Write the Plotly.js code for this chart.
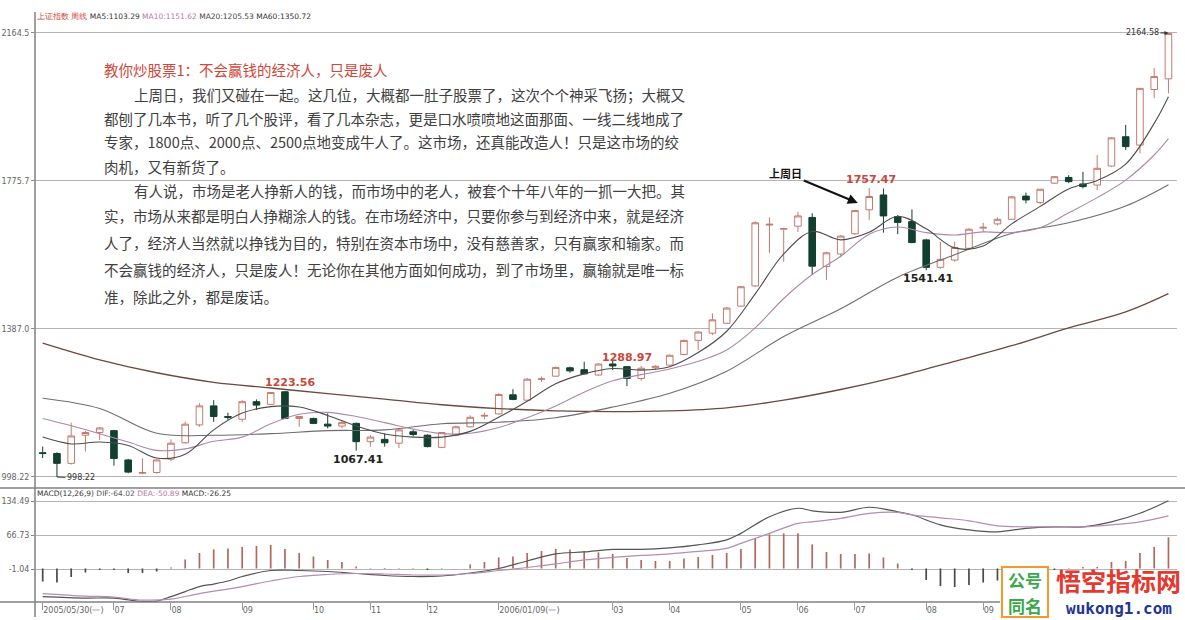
<!DOCTYPE html>
<html><head><meta charset="utf-8">
<script src="https://cdn.plot.ly/plotly-3.0.1.min.js"></script>
<style>html,body{margin:0;padding:0;background:#fff}#chart{width:1185px;height:620px}</style>
</head><body><div id="chart"></div>
<script>
// ---------- DATA (weekly candles, index 0..79) ----------
const openP  = [1062,1060,1034,1108,1115,1120,1043,1008,1010,1045,1088,1135,1185,1157,1150,1196,1189,1222,1152,1152,
                1137,1132,1139,1091,1097,1087,1117,1108,1076,1108,1130,1158,1164,1214,1200,1255,1263,1285,1280,1266,
                1295,1288,1257,1285,1292,1320,1357,1376,1402,1447,1500,1660,1649,1657,1680,1551,1584,1637,1700,1739,
                1682,1669,1621,1549,1568,1599,1652,1663,1675,1736,1719,1770,1785,1768,1765,1815,1892,1870,2016,2044];
const highP  = [1078,1063,1141,1119,1130,1122,1046,1047,1044,1097,1144,1192,1200,1167,1200,1202,1221,1223.56,1158,1154,
                1165,1146,1141,1108,1113,1124,1122,1110,1116,1133,1160,1167,1218,1229,1258,1262,1288,1288,1301,1297,
                1307,1288.97,1290,1292,1320,1359,1381,1428,1445,1500,1670,1680,1652,1695,1691,1590,1634,1700,1757.47,1756,
                1686,1701,1624,1616,1616,1652,1666,1680,1736,1745,1755,1789,1791,1800,1844,1891,1923,2020,2072,2164.58];
const lowP   = [1048,998.22,1031,1065,1095,1028,1008,1006,1007,1040,1086,1130,1143,1148,1143,1174,1187,1150,1130,1137,
                1126,1126,1067.41,1078,1078,1074,1105,1076,1074,1105,1128,1150,1162,1200,1198,1248,1262,1272,1268,1264,
                1279,1237,1251,1280,1290,1318,1331,1371,1400,1445,1497,1587,1564,1642,1529,1516,1575,1634,1673,1640,
                1636,1612,1541.41,1545,1564,1596,1642,1659,1673,1717,1715,1768,1770,1756,1752,1813,1857,1848,1993,2006];
const closeP = [1060,1034,1106,1115,1127,1047,1011,1010,1043,1087,1137,1185,1157,1155,1196,1187,1220,1152,1157,1139,
                1132,1141,1091,1103,1088,1122,1110,1078,1115,1130,1155,1160,1215,1202,1255,1256,1286,1277,1269,1295,
                1290,1257,1284,1289,1318,1357,1379,1411,1442,1498,1666,1662,1651,1684,1552,1587,1631,1698,1735,1684,
                1667,1614,1549,1570,1601,1649,1654,1675,1734,1726,1754,1787,1774,1761,1809,1889,1866,2019,2050,2163];

// moving averages
const ma5Idx = [0,2,4,6,8,10,12,14,16,18,20,22,24,26,28,30,32,34,36,38,40,42,44,46,48,50,52,54,56,58,60,62,64,66,68,70,72,74,76,78,79];
const ma5    = [1103,1085,1090,1081,1048,1058,1122,1166,1183,1182,1160,1132,1111,1103,1103,1118,1155,1197,1243,1269,1283,1279,1288,1325,1381,1479,1584,1643,1621,1641,1683,1650,1600,1605,1663,1709,1755,1777,1820,1927,1997];
const ma10Idx = [0,2,4,6,8,10,12,14,16,18,20,22,24,26,28,30,32,34,36,38,40,42,44,46,48,50,52,54,56,58,60,62,64,66,68,70,72,74,76,78,79];
const ma10   = [1152,1133,1112,1090,1068,1072,1092,1103,1138,1163,1168,1157,1141,1124,1112,1113,1128,1154,1185,1221,1251,1267,1282,1302,1332,1390,1467,1530,1578,1636,1655,1640,1634,1642,1640,1653,1692,1732,1778,1844,1887];
const maLongIdx = [0,4,8,12,16,20,24,28,32,36,40,44,48,52,56,60,64,68,72,76,79];
const ma20   = [1205,1178,1113,1108,1112,1120,1122,1138,1142,1154,1182,1218,1276,1367,1440,1523,1582,1638,1666,1710,1766];
const ma60   = [1350,1306,1272,1247,1232,1217,1203,1188,1178,1172,1170,1172,1180,1200,1228,1262,1302,1343,1390,1432,1480];

// MACD
const macdHist = [-26,-28,-17,-8,-3,-3,-9,-9,-6,2,18,31,38,40,43,45,47,39,31,24,
                  17,13,4,1,-1,1,1,-3,1,0,8,13,22,24,31,35,39,38,35,32,
                  29,21,17,15,15,20,23,27,31,39,60,68,70,70,48,33,29,29,30,22,
                  10,-3,-23,-35,-37,-33,-28,-24,-18,-12,-8,-4,1,3,3,13,15,31,43,62];
const difIdx = [0,3,5,7,8,9,10,11,12,13,14,16,18,20,22,24,26,28,30,32,34,36,38,40,42,44,46,48,49,51,53,54,56,58,60,61,63,65,67,69,71,73,75,77,79];
const dif    = [-56,-59,-59,-66,-65,-56,-46,-36,-31,-25,-16,-4,-4,-6,-10,-14,-16,-15,-9,0,15,29,33,38,38,41,47,57,70,103,120,115,112,122,113,107,87,77,73,80,83,83,93,110,135];
const deaIdx = [0,3,5,7,9,11,14,16,18,20,22,24,26,28,30,32,34,36,38,40,42,44,46,48,49,51,53,54,56,58,60,61,63,65,67,69,71,73,75,77,79];
const dea    = [-50,-55,-57,-63,-61,-50,-36,-25,-16,-12,-10,-11,-13,-13,-10,-4,2,9,17,22,26,29,34,40,50,70,90,93,100,110,112,107,101,95,85,83,83,83,87,93,105];

// axis ticks
const priceTicks = [998.22, 1387.0, 1775.7, 2164.5];
const priceTickText = ['998.22','1387.0','1775.7','2164.5'];
const macdTicks = [-1.04, 66.73, 134.49];
const macdTickText = ['-1.04','66.73','134.49'];
const dateTickIdx  = [0,5,9,14,19,23,27,32,40,44,49,53,57,62,66];
const dateTickText = ['2005/05/30(一)','07','08','09','10','11','12','2006/01/09(一)','03','04','05','06','07','08','09'];

// texts
const headerText = '<span style="color:#d0483c">上证指数</span> <span style="color:#d0483c">周线</span> <span style="color:#333">MA5:1103.29</span> <span style="color:#b47aa8">MA10:1151.62</span> <span style="color:#444">MA20:1205.53</span> <span style="color:#333">MA60:1350.72</span>';
const macdHeader = '<span style="color:#333">MACD(12,26,9)</span> <span style="color:#555">DIF:-64.02</span> <span style="color:#b47aa8">DEA:-50.89</span> <span style="color:#333">MACD:-26.25</span>';
const articleTitle = '教你炒股票1：不会赢钱的经济人，只是废人';
const articleLines = [
  '上周日，我们又碰在一起。这几位，大概都一肚子股票了，这次个个神采飞扬；大概又',
  '都刨了几本书，听了几个股评，看了几本杂志，更是口水喷喷地这面那面、一线二线地成了',
  '专家，1800点、2000点、2500点地变成牛人了。这市场，还真能改造人！只是这市场的绞',
  '肉机，又有新货了。',
  '有人说，市场是老人挣新人的钱，而市场中的老人，被套个十年八年的一抓一大把。其',
  '实，市场从来都是明白人挣糊涂人的钱。在市场经济中，只要你参与到经济中来，就是经济',
  '人了，经济人当然就以挣钱为目的，特别在资本市场中，没有慈善家，只有赢家和输家。而',
  '不会赢钱的经济人，只是废人！无论你在其他方面如何成功，到了市场里，赢输就是唯一标',
  '准，除此之外，都是废话。'
];
const lineIndent = [true,false,false,false,true,false,false,false,false];
const lineY = [94,118,142,166,190,215,242,269,296];
const watermarkBadge = ['公号','同名'];
const watermarkName = '悟空指标网';
const watermarkUrl = 'wukong1.com';

// ---------- LAYOUT HELPERS (pixel -> paper) ----------
const W=1185,H=620,L=35,R=8,T=8,B=18;
const PW=W-L-R, PH=H-T-B;
const px = x => (x-L)/PW;
const py = y => (H-B-y)/PH;
const splitY = py(488);
const idx = closeP.map((_,i)=>i);

const CJK = 'Noto Sans CJK SC, sans-serif';
const NUM = 'DejaVu Sans, sans-serif';

const traces = [
  {type:'candlestick', x:idx, open:openP, high:highP, low:lowP, close:closeP,
   increasing:{line:{color:'#c47a6c',width:1}, fillcolor:'#ffffff'},
   decreasing:{line:{color:'#123f2f',width:1}, fillcolor:'#123f2f'},
   whiskerwidth:0, xaxis:'x', yaxis:'y', hoverinfo:'skip', showlegend:false},
  {type:'scatter', mode:'lines', x:maLongIdx, y:ma60, line:{color:'#6b4a40',width:1.3,shape:'spline'}, yaxis:'y', showlegend:false},
  {type:'scatter', mode:'lines', x:maLongIdx, y:ma20, line:{color:'#6e6e6e',width:1.1,shape:'spline'}, yaxis:'y', showlegend:false},
  {type:'scatter', mode:'lines', x:ma10Idx, y:ma10, line:{color:'#ae88a6',width:1.1,shape:'spline'}, yaxis:'y', showlegend:false},
  {type:'scatter', mode:'lines', x:ma5Idx, y:ma5, line:{color:'#4d4d4d',width:1.1,shape:'spline'}, yaxis:'y', showlegend:false},
  {type:'bar', x:idx, y:macdHist, width:0.12, marker:{color:macdHist.map(v=>v>=0?'#b06a5c':'#4a4a4a')}, yaxis:'y2', showlegend:false},
  {type:'scatter', mode:'lines', x:difIdx, y:dif, line:{color:'#555555',width:1.2,shape:'spline'}, yaxis:'y2', showlegend:false},
  {type:'scatter', mode:'lines', x:deaIdx, y:dea, line:{color:'#b48eaa',width:1.2,shape:'spline'}, yaxis:'y2', showlegend:false}
];

const ann = [];
const P = (x,y,text,font,xa,ya) => ({xref:'paper',yref:'paper',x:px(x),y:py(y),xanchor:xa||'center',yanchor:ya||'middle',showarrow:false,text,font,borderpad:0});
ann.push(P(36,16,headerText,{family:NUM,size:7.5,color:'#333'},'left'));
ann.push(P(36,493,macdHeader,{family:NUM,size:7.5,color:'#333'},'left'));
ann.push(P(103,70,articleTitle,{family:CJK,size:14.5,color:'#d0463a'},'left'));
articleLines.forEach((t,k)=>{
  ann.push(P(lineIndent[k]?133:103,lineY[k],t,{family:CJK,size:14.5,color:'#404040'},'left'));
});
// extreme labels
const red='#c8473b';
ann.push({x:17,y:highP[17],xanchor:'center',yanchor:'bottom',xshift:5,showarrow:false,text:'<b>1223.56</b>',font:{family:NUM,size:11,color:red}});
ann.push({x:22,y:lowP[22],xanchor:'center',yanchor:'top',xshift:2,showarrow:false,text:'<b>1067.41</b>',font:{family:NUM,size:11,color:'#222'}});
ann.push({x:41,y:highP[41],xanchor:'center',yanchor:'bottom',showarrow:false,text:'<b>1288.97</b>',font:{family:NUM,size:11,color:red}});
ann.push({x:58,y:highP[58],xanchor:'center',yanchor:'bottom',xshift:2,showarrow:false,text:'<b>1757.47</b>',font:{family:NUM,size:11,color:red}});
ann.push({x:62,y:lowP[62],xanchor:'center',yanchor:'top',xshift:2,showarrow:false,text:'<b>1541.41</b>',font:{family:NUM,size:11,color:'#222'}});
ann.push({x:1,y:lowP[1],ax:24,ay:1,showarrow:true,arrowhead:0,arrowwidth:1,arrowcolor:'#333',text:'998.22',font:{family:NUM,size:8,color:'#333'}});
ann.push({x:79,y:highP[79],ax:-26,ay:0,showarrow:true,arrowhead:2,arrowsize:0.8,arrowwidth:1,arrowcolor:'#333',text:'2164.58',font:{family:NUM,size:8,color:'#333'}});
// "上周日" arrow
ann.push({x:57.2,y:1718,ax:-72,ay:-30,showarrow:true,arrowhead:2,arrowsize:1,arrowwidth:2,arrowcolor:'#111',text:'<b>上周日</b>',font:{family:CJK,size:11,color:'#111'}});
// watermark
ann.push(P(1025,579,'<b>'+watermarkBadge[0]+'</b>',{family:CJK,size:17,color:'#3aa84a'}));
ann.push(P(1025,605,'<b>'+watermarkBadge[1]+'</b>',{family:CJK,size:17,color:'#3aa84a'}));
ann.push(P(1118,580,'<b>'+watermarkName+'</b>',{family:CJK,size:25,color:'#e5392f'}));
ann.push(P(1119,609,'<b>'+watermarkUrl+'</b>',{family:'DejaVu Sans Mono, monospace',size:16,color:'#233592'}));

const shapes = [
  {type:'line',xref:'paper',yref:'paper',x0:px(0),x1:px(1185),y0:splitY,y1:splitY,line:{color:'#808080',width:1.5}},
  {type:'line',xref:'paper',yref:'paper',x0:px(0),x1:px(1185),y0:py(602),y1:py(602),line:{color:'#808080',width:1.5}},
  {type:'line',xref:'paper',yref:'paper',x0:px(35),x1:px(35),y0:py(617),y1:py(12),line:{color:'#808080',width:1.5}},
  {type:'rect',xref:'paper',yref:'paper',x0:px(1000),x1:px(1185),y0:py(620),y1:py(570),fillcolor:'#ffffff',line:{width:0},layer:'above'},
  {type:'rect',xref:'paper',yref:'paper',x0:px(1002),x1:px(1048),y0:py(617),y1:py(567),fillcolor:'#ffffff',line:{color:'#f29a2e',width:2},layer:'above'}
];

const layout = {
  width:W, height:H, margin:{l:L,r:R,t:T,b:B},
  paper_bgcolor:'#ffffff', plot_bgcolor:'#ffffff',
  showlegend:false, hovermode:false, boxgap:0.34,
  xaxis:{range:[-0.54,79.6], anchor:'y2', tickmode:'array', tickvals:dateTickIdx, ticktext:dateTickText,
         ticks:'outside', ticklen:7, tickcolor:'#999', tickfont:{family:NUM,size:8,color:'#666'},
         ticklabelposition:'outside right', showgrid:false, zeroline:false, showline:false,
         rangeslider:{visible:false}, fixedrange:true},
  yaxis:{domain:[splitY,1], range:[969.3,2230.1], tickmode:'array', tickvals:priceTicks, ticktext:priceTickText,
         showgrid:true, gridcolor:'#b5b5b5', gridwidth:1, ticks:'outside', ticklen:3, tickcolor:'#888',
         tickfont:{family:NUM,size:8,color:'#666'}, zeroline:false, showline:false, fixedrange:true},
  yaxis2:{domain:[0,splitY], range:[-66.8,160.4], tickmode:'array', tickvals:macdTicks, ticktext:macdTickText,
         showgrid:true, gridcolor:'#b5b5b5', gridwidth:1, ticks:'outside', ticklen:3, tickcolor:'#888',
         tickfont:{family:NUM,size:8,color:'#666'}, zeroline:false, showline:false, fixedrange:true},
  annotations:ann, shapes:shapes
};

Plotly.newPlot('chart', traces, layout, {displayModeBar:false, staticPlot:true});
</script></body></html>
